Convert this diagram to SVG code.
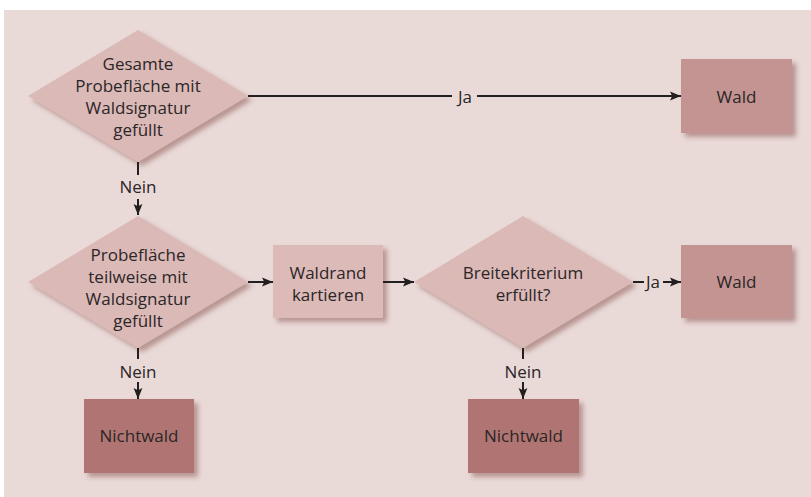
<svg xmlns="http://www.w3.org/2000/svg" width="811" height="497" viewBox="0 0 811 497">
<defs>
<filter id="sh" x="-20%" y="-20%" width="150%" height="150%">
<feDropShadow dx="4" dy="4" stdDeviation="2.5" flood-color="#7a3f3c" flood-opacity="0.45"/>
</filter>
<marker id="ar" viewBox="0 0 10 10" refX="10" refY="5" markerWidth="11" markerHeight="11" markerUnits="userSpaceOnUse" orient="auto">
<path d="M0,1 L10,5 L0,9 L2,5 Z" fill="#231f20"/>
</marker>
<style>
.t{font-family:"Open Sans","Noto Sans","Liberation Sans",sans-serif;font-size:17px;fill:#2b2627;text-anchor:middle;dominant-baseline:central}
.dia{fill:#dbb9b7}
.light{fill:#dcbab8}
.wald{fill:#c39491}
.nw{fill:#b07572}
.ln{stroke:#231f20;stroke-width:2;fill:none}
.arw{stroke:#231f20;stroke-width:2;fill:none;marker-end:url(#ar)}
</style>
</defs>
<rect x="0" y="0" width="811" height="497" fill="#ffffff"/>
<rect x="4" y="10" width="807" height="487" fill="#e9dad8"/>

<g id="d1">
<polygon class="dia" filter="url(#sh)" points="138,30 248,96 138,162 28,96"/>
<text class="t" x="138" y="63">Gesamte</text>
<text class="t" x="138" y="85">Probefläche mit</text>
<text class="t" x="138" y="107">Waldsignatur</text>
<text class="t" x="138" y="129">gefüllt</text>
</g>
<g id="wald1">
<rect class="wald" filter="url(#sh)" x="681" y="59" width="111" height="74"/>
<text class="t" x="736.5" y="96">Wald</text>
</g>
<g id="d2">
<polygon class="dia" filter="url(#sh)" points="138,216 248,282 138,348 28,282"/>
<text class="t" x="138" y="254">Probefläche</text>
<text class="t" x="138" y="276">teilweise mit</text>
<text class="t" x="138" y="298">Waldsignatur</text>
<text class="t" x="138" y="320">gefüllt</text>
</g>
<g id="waldrand">
<rect class="light" filter="url(#sh)" x="273" y="245" width="110" height="73"/>
<text class="t" x="328" y="272">Waldrand</text>
<text class="t" x="328" y="294">kartieren</text>
</g>
<g id="d3">
<polygon class="dia" filter="url(#sh)" points="523,216 633,282 523,348 414,282"/>
<text class="t" x="523" y="272">Breitekriterium</text>
<text class="t" x="523" y="294">erfüllt?</text>
</g>
<g id="wald2">
<rect class="wald" filter="url(#sh)" x="681" y="245" width="111" height="73"/>
<text class="t" x="736.5" y="281">Wald</text>
</g>
<g id="nw1">
<rect class="nw" filter="url(#sh)" x="84" y="399" width="110" height="74"/>
<text class="t" x="139" y="435">Nichtwald</text>
</g>
<g id="nw2">
<rect class="nw" filter="url(#sh)" x="468" y="399" width="111" height="74"/>
<text class="t" x="523.5" y="435">Nichtwald</text>
</g>

<g id="connectors">
<line class="ln" x1="248" y1="96" x2="452" y2="96"/>
<text class="t" x="465" y="96">Ja</text>
<line class="arw" x1="477" y1="96" x2="681" y2="96"/>

<line class="ln" x1="138" y1="162" x2="138" y2="175"/>
<text class="t" x="138" y="186">Nein</text>
<line class="arw" x1="138" y1="199" x2="138" y2="215"/>

<line class="arw" x1="248" y1="282" x2="273" y2="282"/>
<line class="arw" x1="383" y1="282" x2="414" y2="282"/>

<line class="ln" x1="633" y1="282" x2="644" y2="282"/>
<text class="t" x="653" y="281">Ja</text>
<line class="arw" x1="663" y1="282" x2="681" y2="282"/>

<line class="ln" x1="138" y1="348" x2="138" y2="359"/>
<text class="t" x="138" y="371">Nein</text>
<line class="arw" x1="138" y1="382" x2="138" y2="399"/>

<line class="ln" x1="523" y1="348" x2="523" y2="359"/>
<text class="t" x="523" y="371">Nein</text>
<line class="arw" x1="523" y1="382" x2="523" y2="399"/>
</g>
</svg>
